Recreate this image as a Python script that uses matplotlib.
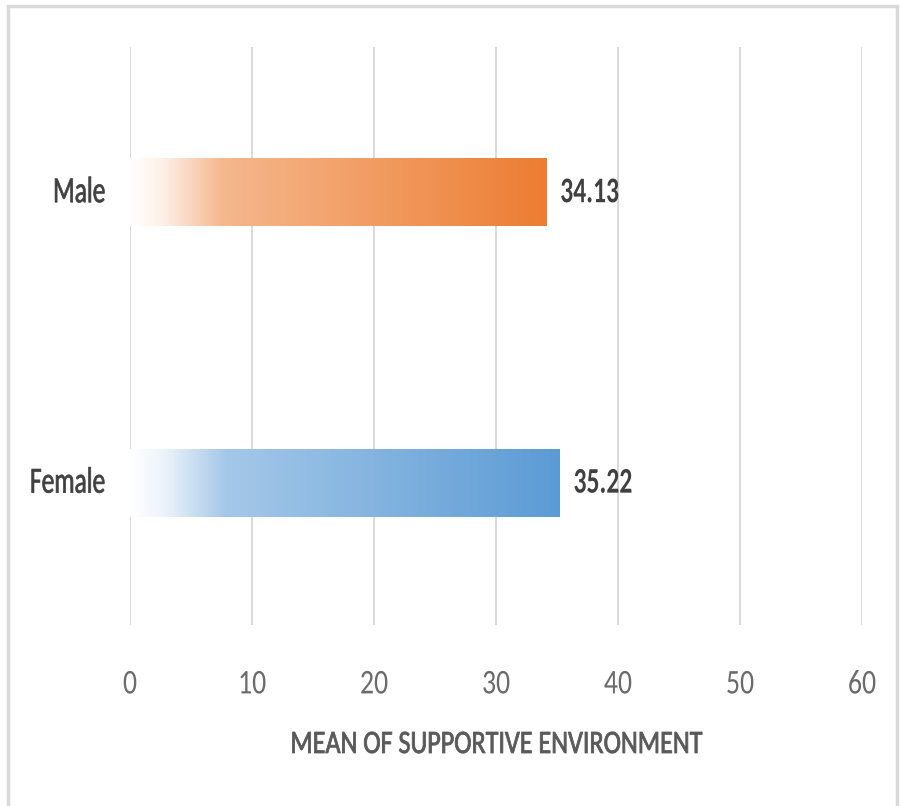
import numpy as np
import matplotlib
matplotlib.use("Agg")
import matplotlib.pyplot as plt
from matplotlib.colors import LinearSegmentedColormap, to_rgb
from matplotlib.patches import Rectangle
from matplotlib.patheffects import AbstractPathEffect
from matplotlib.transforms import Affine2D

# data
groups = ["Female", "Male"]
means = [35.22, 34.13]
bar_colors = {"Female": "#5B9BD5", "Male": "#ED7D31"}
xticks = [0, 10, 20, 30, 40, 50, 60]


class Narrow(AbstractPathEffect):
    """Squeeze glyphs horizontally around the text anchor, optionally thickening them."""

    def __init__(self, sx, anchor="center", stroke=0.0):
        super().__init__()
        self.sx = sx
        self.anchor = anchor
        self.stroke = stroke

    def draw_path(self, renderer, gc, tpath, affine, rgbFace=None):
        ext = tpath.transformed(affine).get_extents()
        if self.anchor == "left":
            x0 = ext.x0
        elif self.anchor == "right":
            x0 = ext.x1
        else:
            x0 = (ext.x0 + ext.x1) / 2
        squeeze = Affine2D().translate(-x0, 0).scale(self.sx, 1).translate(x0, 0)
        gc0 = renderer.new_gc()
        gc0.copy_properties(gc)
        if self.stroke > 0 and rgbFace is not None:
            gc0.set_linewidth(self.stroke)
            gc0.set_foreground(rgbFace)
        renderer.draw_path(gc0, tpath, affine + squeeze, rgbFace)
        gc0.restore()


plt.rcParams["font.family"] = ["Carlito", "DejaVu Sans"]
text_grey = "#595959"

fig = plt.figure(figsize=(9.01, 8.06), dpi=100)
ax = fig.add_axes([0.1443, 0.2246, 0.8124, 0.7171])

# light frame around the whole chart area
fig.patches.append(Rectangle((0.009, -0.05), 0.987, 1.043, transform=fig.transFigure,
                             fill=False, edgecolor="#D9D9D9", linewidth=2.5))

bar_h = 0.234
grad = np.linspace(0, 1, 256).reshape(1, -1)

for i, (g, v) in enumerate(zip(groups, means)):
    end = to_rgb(bar_colors[g])
    # fade from white on the left into the full colour at the bar end
    stops = [(0.0, (1, 1, 1)),
             (0.08, tuple(1 - 0.12 * (1 - c) for c in end)),
             (0.22, tuple(1 - 0.55 * (1 - c) for c in end)),
             (1.0, end)]
    cmap = LinearSegmentedColormap.from_list(g, stops)
    ax.imshow(grad, cmap=cmap, aspect="auto", zorder=2,
              extent=[0, v, i - bar_h / 2, i + bar_h / 2])
    t = ax.text(v + 1.1, i, f"{v:.2f}", va="center", ha="left",
                fontsize=26, fontweight="bold", color="#404040")
    t.set_path_effects([Narrow(0.71, "left")])

ax.set_xlim(0, 60)
ax.set_ylim(-0.49, 1.5)
ax.set_xticks(xticks)
ax.set_yticks(range(len(groups)))
ax.set_yticklabels([])
ax.tick_params(axis="x", labelsize=25, colors="#6b6b6b", length=0, pad=32)
ax.tick_params(axis="y", length=0)
for lbl in ax.get_xticklabels():
    lbl.set_path_effects([Narrow(0.8, "center")])

# category names, centred on their squeezed width so they end 18 pt left of the axis
name_sx = 0.69
names = []
for i, g in enumerate(groups):
    t = ax.annotate(g, xy=(0, i), xycoords=("axes fraction", "data"),
                    xytext=(-18, 0), textcoords="offset points",
                    ha="center", va="center", fontsize=26.5, color="#404040")
    t.set_path_effects([Narrow(name_sx, "center", stroke=0.5)])
    names.append(t)
fig.canvas.draw()
for t in names:
    w_pt = t.get_window_extent().width * 72 / fig.dpi
    t.xyann = (-18 - name_sx * w_pt / 2, 0)

ax.grid(axis="x", color="#D9D9D9", linewidth=1.4, zorder=0)
ax.set_axisbelow(True)
for s in ax.spines.values():
    s.set_visible(False)

xl = ax.set_xlabel("MEAN OF SUPPORTIVE ENVIRONMENT", fontsize=23.5,
                   color=text_grey, labelpad=22)
xl.set_path_effects([Narrow(0.8, "center", stroke=0.6)])

fig.savefig("out.png", dpi=100)
